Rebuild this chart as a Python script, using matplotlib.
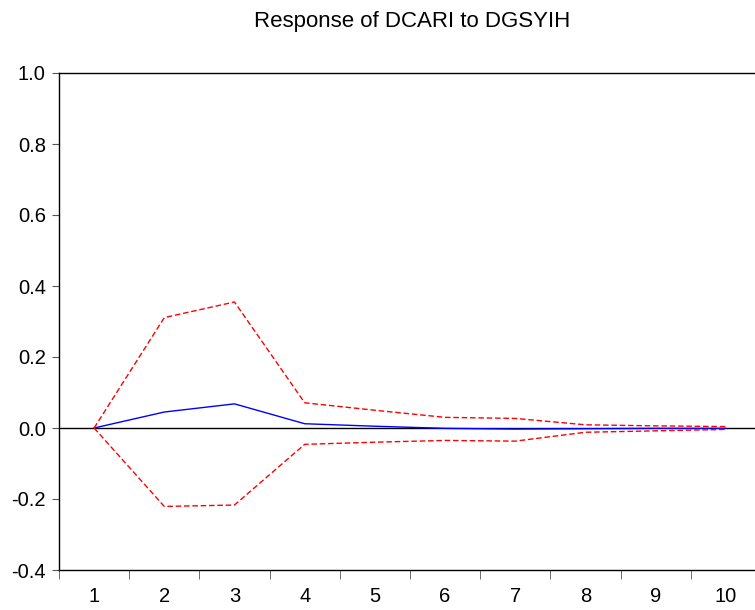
import matplotlib
matplotlib.use("Agg")
import matplotlib.pyplot as plt

plt.rcParams['font.family'] = ['Liberation Sans', 'DejaVu Sans']

# DATA
periods = [1, 2, 3, 4, 5, 6, 7, 8, 9, 10]
response = [0.0, 0.045, 0.068, 0.012, 0.005, -0.001, -0.003, -0.002, -0.001, -0.001]
upper = [0.0, 0.311, 0.355, 0.071, 0.050, 0.030, 0.027, 0.009, 0.006, 0.004]
lower = [0.0, -0.221, -0.217, -0.046, -0.040, -0.035, -0.037, -0.012, -0.008, -0.004]
yticks = [-0.4, -0.2, 0.0, 0.2, 0.4, 0.6, 0.8, 1.0]

fig = plt.figure(figsize=(7.55, 6.10), dpi=100)
ax = fig.add_axes([59 / 755, 40 / 610, 696 / 755, 497 / 610])

ax.axhline(0, color='black', linewidth=1)
ax.plot(periods, response, color='blue', linewidth=1)
ax.plot(periods, upper, color='red', linewidth=1, linestyle=(0, (4, 2)))
ax.plot(periods, lower, color='red', linewidth=1, linestyle=(0, (4, 2)))

ax.set_xlim(0.5, 10.415)
ax.set_ylim(-0.4, 1.0)
ax.set_yticks(yticks)
ax.set_yticklabels([f"{v:.1f}" for v in yticks])
ax.set_xticks(periods)
ax.set_xticklabels([str(p) for p in periods])
ax.set_xticks([p - 0.5 for p in periods], minor=True)
ax.tick_params(axis='x', which='major', length=0, labelsize=14.5, pad=12)
ax.tick_params(axis='x', which='minor', length=6.5, color='#555555', direction='out')
ax.tick_params(axis='y', which='major', length=5, color='#555555', labelsize=14.5, pad=4.5)

ax.spines['right'].set_visible(False)
for s in ['left', 'top', 'bottom']:
    ax.spines[s].set_linewidth(1)

fig.text(412 / 755, 1 - 22 / 610, "Response of DCARI to DGSYIH", ha='center', va='center', fontsize=16)

fig.savefig("out.png", dpi=100)
